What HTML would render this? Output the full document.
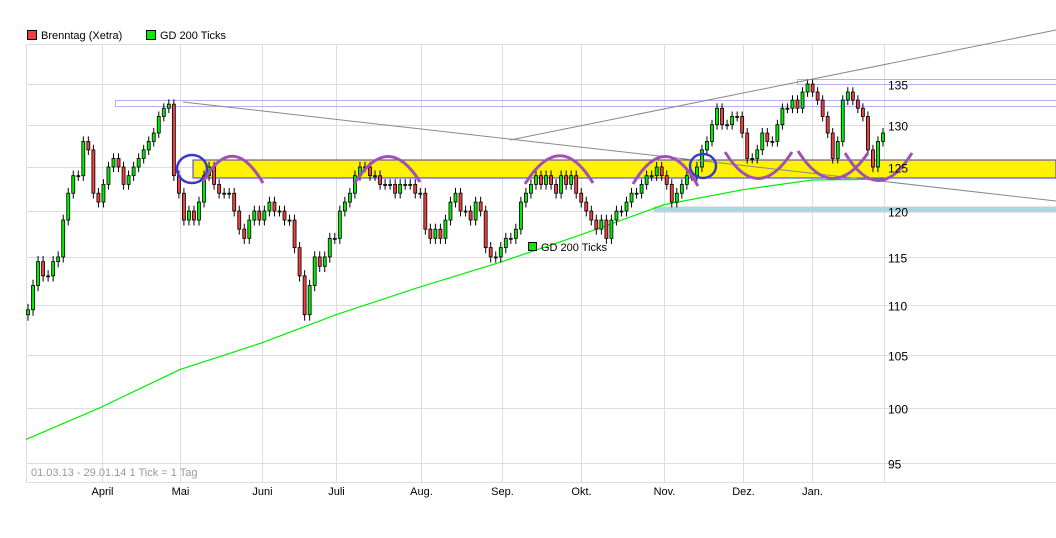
<!DOCTYPE html>
<html><head><meta charset="utf-8">
<style>
body{margin:0;background:#fff;}
svg text{font-family:"Liberation Sans",sans-serif;}
</style></head>
<body>
<svg id="chart" width="1056" height="533" viewBox="0 0 1056 533" xmlns="http://www.w3.org/2000/svg">
<g>
 <rect x="27.5" y="30.5" width="9" height="9" fill="#ef4040" stroke="#000"/>
 <text x="41" y="39" font-size="11" fill="#000">Brenntag (Xetra)</text>
 <rect x="146.5" y="30.5" width="9" height="9" fill="#00ee00" stroke="#000"/>
 <text x="160" y="39" font-size="11" fill="#000">GD 200 Ticks</text>
</g>
<g id="grid"></g>
<g id="annot-back">
 <rect x="193" y="160" width="863" height="18" fill="#fff200" stroke="#3a3ad0" stroke-width="1"/>
 <rect x="115.5" y="100.5" width="941" height="6" fill="none" stroke="#b8b0e8"/>
 <rect x="797.5" y="79.5" width="259" height="5" fill="none" stroke="#b8b0e8"/>
 <rect x="654" y="207" width="402" height="5" fill="#a8d8e8" stroke="#ccc"/>
</g>
<g id="gd"></g>
<g id="candles"></g>
<g id="annot" fill="none">
 <line x1="183" y1="102" x2="1056" y2="201" stroke="#888" stroke-width="1"/>
 <line x1="510" y1="140" x2="1056" y2="30" stroke="#888" stroke-width="1"/>
 <ellipse cx="192" cy="169" rx="15" ry="14" stroke="#3a3ad0" stroke-width="2.5"/>
 <ellipse cx="703" cy="166" rx="13" ry="12" stroke="#3a3ad0" stroke-width="2.5"/>
 <g stroke="#a050b8" stroke-width="3">
  <path d="M203 182 Q232 130 263 183"/>
  <path d="M354 184 Q388 130 420 182"/>
  <path d="M525 184 Q560 128 593 183"/>
  <path d="M633 184 Q666 128 698 186"/>
  <path d="M725 152 Q758 205 792 152"/>
  <path d="M798 151 Q832 205 868 153"/>
  <path d="M845 153 Q878 208 912 153"/>
 </g>
</g>
<g>
 <rect x="528.5" y="242.5" width="8" height="8" fill="#00ee00" stroke="#000"/>
 <text x="541" y="251" font-size="11" fill="#000">GD 200 Ticks</text>
</g>
<text x="31" y="476" font-size="11" fill="#999">01.03.13 - 29.01.14   1 Tick = 1 Tag</text>
<g id="xlabels"></g>
<g id="ylabels"></g>
</svg>
<script>
const yTicks=[135,130,125,120,115,110,105,100,95];
const monthLabels=["April","Mai","Juni","Juli","Aug.","Sep.","Okt.","Nov.","Dez.","Jan."];
const monthDayIndex=[19.4,39.8,61.3,80.7,103,124.2,144.9,166.6,187.3,205.4];
const closes=[109.5,112,114.5,113,113,114.5,115,119,122,124,124,128,127,122,121,123,125,126,125,123,124,125,126,127,128,129,131,132,132.5,124,122,119,120,119,121,124,125,123,122,122,122,120,118,117,119,120,119,120,121,120,120,119,119,116,113,109,112,115,114,115,117,117,120,121,122,124,125,125,124,124,123,123,123,122,123,123,123,122,122,118,117,118,117,119,121,122,120,120,119,121,120,116,115,115,116,117,117,118,121,122,123,124,123,124,123,122,124,123,124,122,121,120,119,118,119,117,119,120,120,121,122,122,123,124,124,125,124,123,121,122,123,124,124,125,127,128,130,132,130,130,131,131,129,126,126,127,129,128,128,130,132,132,133,132,134,135,134,133,131,129,126,128,133,134,133,132,131,127,125,128,129];
const gdIndex=[-0.5,18.9,39.8,61.3,80.7,101.6,124.2,144.9,166.6,187.3,205.4,224.3];
const gdValues=[97.1,100.0,103.6,106.2,109.0,111.7,114.5,117.4,120.7,122.4,123.5,123.6];
const totalDays=225;
const X0=28,X1=883,L=26,R=884,T=44,B=482;
function xs(i){return X0+i*(X1-X0)/(totalDays-1);}
function ys(v){return 84+1078.6*Math.log(135/v);}
const NS="http://www.w3.org/2000/svg";
function mk(tag,attrs,parent){const e=document.createElementNS(NS,tag);for(const k in attrs)e.setAttribute(k,attrs[k]);parent.appendChild(e);return e;}
const grid=document.getElementById('grid');
let r=mk('rect',{x:L+.5,y:T+.5,width:1056-L,height:B-T,fill:'none',stroke:'#ddd'},grid);


yTicks.forEach(v=>{const y=Math.round(ys(v))+.5;
 const l=mk('line',{x1:L,x2:1056,y1:y,y2:y,stroke:'#ddd'},grid);
 
 
 const t=mk('text',{x:888,y:y+5,'font-size':12,fill:'#000'},document.getElementById('ylabels'));
 t.textContent=v;
 
 
});
const vb=mk('line',{x1:R+.5,x2:R+.5,y1:T,y2:B,stroke:'#ddd'},grid);


monthLabels.forEach((m,k)=>{const x=Math.round(xs(monthDayIndex[k]))+.5;
 const l=mk('line',{x1:x,x2:x,y1:T,y2:B,stroke:'#ddd'},grid);
 
 
 const t=mk('text',{x:x,y:495,'font-size':11,'text-anchor':'middle',fill:'#000'},document.getElementById('xlabels'));
 t.textContent=m;
 
 
});
const gd=document.getElementById('gd');
const pts=gdIndex.map((d,k)=>[xs(d),ys(gdValues[k])]);
const pl=mk('polyline',{points:pts.map(p=>p.join(',')).join(' '),fill:'none',stroke:'#00ee00','stroke-width':1.2},gd);


const cg=document.getElementById('candles');
const cstep=(X1-X0)/(closes.length-1);
closes.forEach((c,i)=>{
 const o=i?closes[i-1]:c-0.5;
 const x=X0+i*cstep;
 const hi=Math.max(o,c)+0.6,lo=Math.min(o,c)-0.6;
 const g=mk('g',{},cg);
 
 
 mk('line',{x1:x,x2:x,y1:ys(hi),y2:ys(lo),stroke:'#000'},g);
 const yt=ys(Math.max(o,c)),yb=ys(Math.min(o,c));
 mk('rect',{x:x-1.5,y:yt,width:3,height:Math.max(1,yb-yt),fill:c>=o?'#00ee00':'#ef4040',stroke:'#000','stroke-width':.8},g);
});
</script>
</body></html>
